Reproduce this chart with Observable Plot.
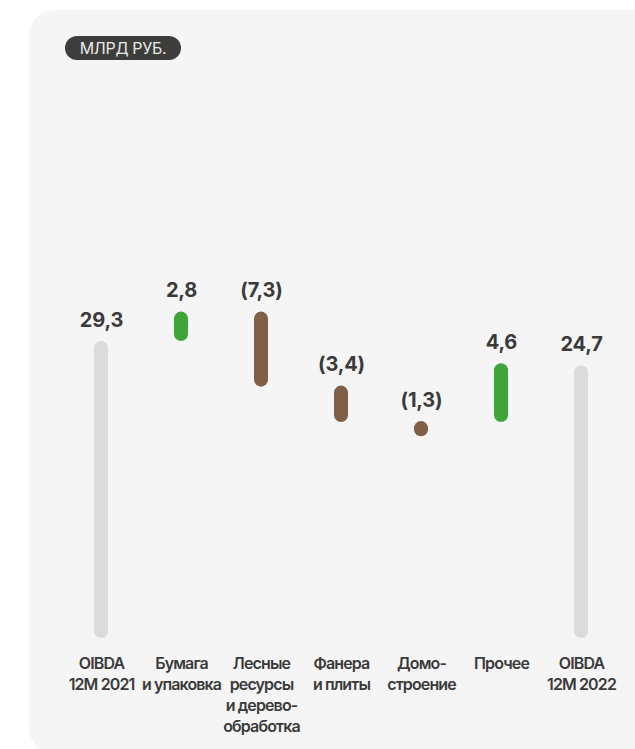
<!DOCTYPE html>
<html>
<head>
<meta charset="utf-8">
<script src="https://cdn.jsdelivr.net/npm/d3@7"></script>
<script src="https://cdn.jsdelivr.net/npm/@observablehq/plot@0.6"></script>
<style>
  html, body { margin: 0; padding: 0; background: #ffffff; }
  #page { position: relative; width: 635px; height: 749px; overflow: hidden; font-family: Inter, "Noto Sans", sans-serif; }
  #panel { position: absolute; left: 29px; top: 10px; width: 628px; height: 744px; border-radius: 26px; background: #f5f5f5; }
  #badge { position: absolute; left: 65px; top: 36px; height: 24px; width: 116px; border-radius: 12px; background: #3d3d3b; color: #e8e8e8;
           font: 400 16px Inter, sans-serif; letter-spacing: -0.02em; line-height: 24px; text-align: center; }
  #chart { position: absolute; left: 0; top: 0; }
</style>
</head>
<body>
<div id="page">
  <div id="panel"></div>
  <div id="badge">МЛРД РУБ.</div>
  <div id="chart"></div>
</div>
<script>
// Categories (tick labels)
const categories = [
  "OIBDA\n12M 2021",
  "Бумага\nи упаковка",
  "Лесные\nресурсы\nи дерево-\nобработка",
  "Фанера\nи плиты",
  "Домо-\nстроение",
  "Прочее",
  "OIBDA\n12M 2022"
];
// Values shown above the bars (млрд руб.)
const values = [29.3, 2.8, -7.3, -3.4, -1.3, 4.6, 24.7];
// Bar extents as drawn in the picture (млрд руб.)
const barLow  = [0,    29.3, 24.8, 21.3, 19.9, 21.3, 0];
const barHigh = [29.3, 32.2, 32.2, 24.9, 21.4, 27.1, 26.9];
// Bar kind: total / increase / decrease
const kinds = ["total", "up", "down", "down", "down", "up", "total"];

const data = categories.map((c, i) => ({
  cat: c, value: values[i], low: barLow[i], high: barHigh[i], kind: kinds[i]
}));

const fmt = v => {
  const s = Math.abs(v).toFixed(1).replace(".", ",");
  return v < 0 ? `(${s})` : s;
};

const chart = Plot.plot({
  width: 635,
  height: 749,
  marginTop: 0,
  marginLeft: 61,
  marginRight: 14,
  marginBottom: 111,
  style: { background: "transparent", fontFamily: "Inter, sans-serif" },
  x: {
    type: "band",
    domain: categories,
    range: [61, 621],
    paddingInner: 0.825,
    paddingOuter: 0.4125,
    axis: null
  },
  y: { domain: [0, 35], range: [638, 638 - 35 * 10.136], axis: null },
  color: {
    domain: ["total", "up", "down"],
    range: ["#dcdcdc", "#3ea639", "#7f5f45"]
  },
  marks: [
    Plot.barY(data, { x: "cat", y1: "low", y2: "high", fill: "kind", rx: 7, ry: 7 }),
    Plot.text(data, {
      x: "cat", y: "high", text: d => fmt(d.value),
      lineAnchor: "bottom", dy: -15,
      fontSize: 20, fontWeight: 700, fill: "#3a3a3a"
    }),
    Plot.text(data, {
      x: "cat", text: "cat", frameAnchor: "bottom",
      lineAnchor: "top", lineHeight: 1.3125, dy: 16,
      fontSize: 16, fontWeight: 600, fill: "#3a3a3a"
    })
  ]
});
document.getElementById("chart").appendChild(chart);
// tighten the category labels as in the reference
const textGroups = d3.select(chart).selectAll("g[aria-label='text']").nodes();
d3.select(textGroups[textGroups.length - 1]).style("letter-spacing", "-0.055em");
d3.select(textGroups[0]).style("letter-spacing", "-0.01em");
</script>
</body>
</html>
